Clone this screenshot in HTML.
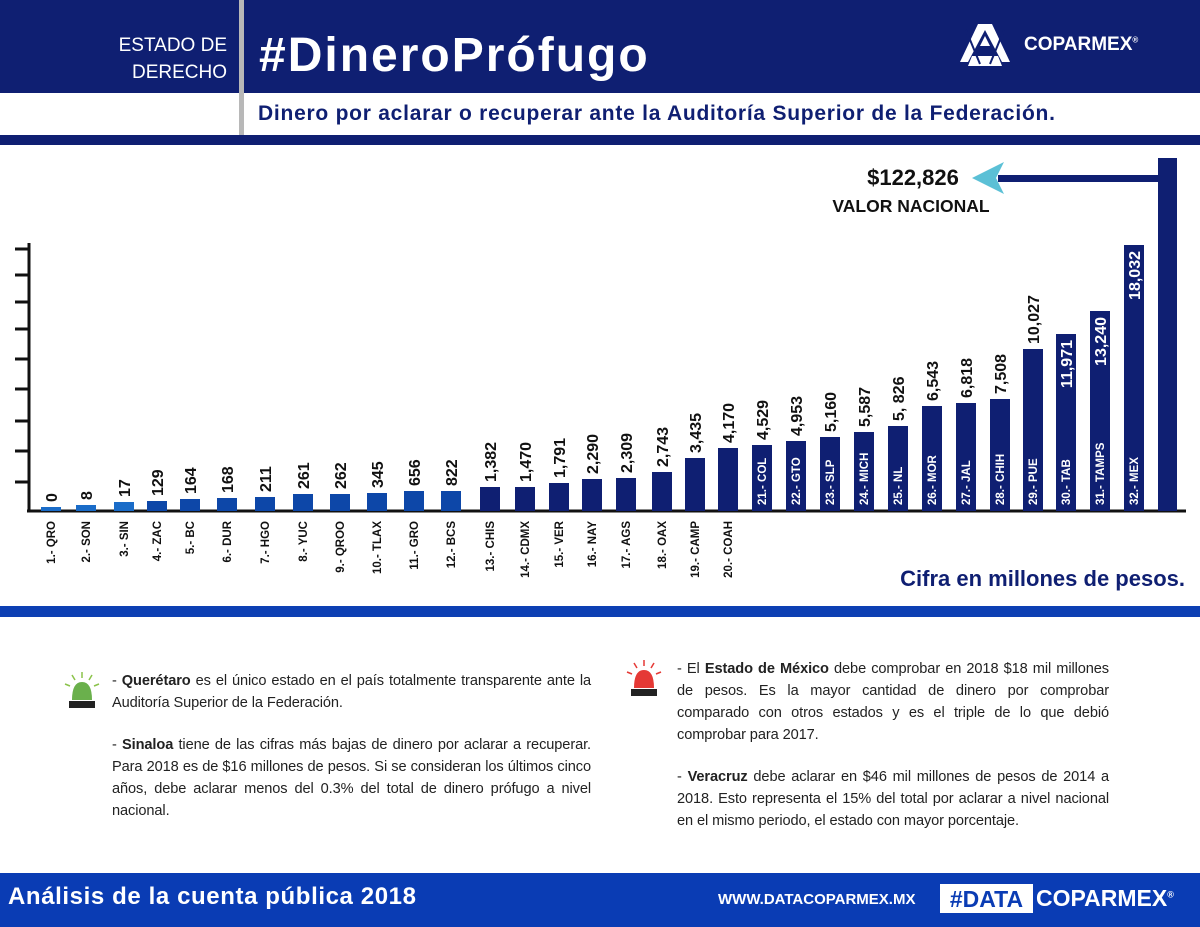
<!DOCTYPE html>
<html><head><meta charset="utf-8"><style>
*{margin:0;padding:0}
body{width:1200px;height:927px;overflow:hidden;background:#fff;font-family:"Liberation Sans",sans-serif;position:relative}
.a{position:absolute}
p.t{font-size:14.6px;line-height:22px;color:#222;text-align:justify;letter-spacing:-0.1px}
</style></head><body>
<div class="a" style="left:0;top:0;width:1200px;height:93px;background:#0f1f72"></div>
<div class="a" style="left:0;top:135px;width:1200px;height:10px;background:#0f1f72"></div>
<div class="a" style="left:239px;top:0;width:5px;height:135px;background:#b8b8b8"></div>
<div class="a" style="left:60px;top:32px;width:167px;text-align:right;color:#fff;font-size:19px;line-height:27px">ESTADO DE<br>DERECHO</div>
<div class="a" style="left:259px;top:28px;color:#fff;font-size:48px;font-weight:bold;letter-spacing:2px">#DineroPrófugo</div>
<svg class="a" style="left:958px;top:22px" width="54" height="46" viewBox="0 0 54 46"><g fill="#fff"><polygon points="20,2 34,2 52,40 44,40 27,8 10,40 2,40"/><polygon points="14,34 40,34 44,44 10,44"/><polygon points="27,14 32,24 22,24" /></g><g stroke="#0f1f72" stroke-width="2"><line x1="8" y1="8" x2="22" y2="42"/><line x1="46" y1="8" x2="32" y2="42"/></g></svg>
<div class="a" style="left:1024px;top:34px;color:#fff;font-size:19px;font-weight:bold">COPARMEX<sup style="font-size:8px">®</sup></div>
<div class="a" style="left:258px;top:102px;color:#0f1f72;font-size:21px;font-weight:bold;letter-spacing:0.75px">Dinero por aclarar o recuperar ante la Auditoría Superior de la Federación.</div>

<svg class="a" style="left:0;top:145px" width="1200" height="460" viewBox="0 145 1200 460" font-family="Liberation Sans, sans-serif" font-weight="bold">
<line x1="29" y1="243" x2="29" y2="512" stroke="#111" stroke-width="3"/>
<line x1="27" y1="511" x2="1186" y2="511" stroke="#111" stroke-width="3"/>
<g stroke="#111" stroke-width="3">
<line x1="15" y1="249" x2="29" y2="249"/><line x1="15" y1="275" x2="29" y2="275"/><line x1="15" y1="302" x2="29" y2="302"/><line x1="15" y1="329" x2="29" y2="329"/><line x1="15" y1="359" x2="29" y2="359"/><line x1="15" y1="389" x2="29" y2="389"/><line x1="15" y1="421" x2="29" y2="421"/><line x1="15" y1="451" x2="29" y2="451"/><line x1="15" y1="482" x2="29" y2="482"/>
</g>
<g id="bars"></g>
<rect x="1158" y="158" width="19" height="353" fill="#0f1f72"/>
<rect x="998" y="175" width="162" height="7" fill="#0f1f72"/>
<polygon points="972,178 1004,162 996,178 1004,194" fill="#5bc0d6"/>
<text x="913" y="185" font-size="22" text-anchor="middle" fill="#111">$122,826</text>
<text x="911" y="212" font-size="17.5" text-anchor="middle" fill="#111">VALOR NACIONAL</text>
<text x="1185" y="586" font-size="22" text-anchor="end" fill="#0f1f72">Cifra en millones de pesos.</text>
</svg>
<div class="a" style="left:0;top:606px;width:1200px;height:11px;background:#0d3fb3"></div>

<svg class="a" style="left:64px;top:672px" width="36" height="38" viewBox="0 0 36 38"><g stroke="#8bc34a" stroke-width="1.5"><line x1="18" y1="0" x2="18" y2="6"/><line x1="8" y1="3" x2="11" y2="8"/><line x1="28" y1="3" x2="25" y2="8"/><line x1="1" y1="12" x2="6" y2="14"/><line x1="35" y1="12" x2="30" y2="14"/></g><path d="M8,28 Q8,10 18,10 Q28,10 28,28Z" fill="#6ab04c"/><rect x="5" y="29" width="26" height="7" fill="#222"/></svg>
<svg class="a" style="left:626px;top:660px" width="36" height="38" viewBox="0 0 36 38"><g stroke="#e53935" stroke-width="1.5"><line x1="18" y1="0" x2="18" y2="6"/><line x1="8" y1="3" x2="11" y2="8"/><line x1="28" y1="3" x2="25" y2="8"/><line x1="1" y1="12" x2="6" y2="14"/><line x1="35" y1="12" x2="30" y2="14"/></g><path d="M8,28 Q8,10 18,10 Q28,10 28,28Z" fill="#e53935"/><rect x="5" y="29" width="26" height="7" fill="#222"/></svg>
<div class="a" style="left:112px;top:670px;width:479px"><p class="t">- <b>Querétaro</b> es el único estado en el país totalmente transparente ante la Auditoría Superior de la Federación.</p><p class="t" style="margin-top:20px">- <b>Sinaloa</b> tiene de las cifras más bajas de dinero por aclarar a recuperar. Para 2018 es de $16 millones de pesos. Si se consideran los últimos cinco años, debe aclarar menos del 0.3% del total de dinero prófugo a nivel nacional.</p></div>
<div class="a" style="left:677px;top:658px;width:432px"><p class="t">- El <b>Estado de México</b> debe comprobar en 2018 $18 mil millones de pesos. Es la mayor cantidad de dinero por comprobar comparado con otros estados y es el triple de lo que debió comprobar para 2017.</p><p class="t" style="margin-top:20px">- <b>Veracruz</b> debe aclarar en $46 mil millones de pesos de 2014 a 2018. Esto representa el 15% del total por aclarar a nivel nacional en el mismo periodo, el estado con mayor porcentaje.</p></div>

<div class="a" style="left:0;top:873px;width:1200px;height:54px;background:#0a3cb4"></div>
<div class="a" style="left:8px;top:883px;color:#fff;font-size:24px;font-weight:bold;letter-spacing:0.6px">Análisis de la cuenta pública 2018</div>
<div class="a" style="left:718px;top:891px;color:#fff;font-size:15px;font-weight:bold">WWW.DATACOPARMEX.MX</div>
<div class="a" style="left:940px;top:884px;width:93px;height:29px;background:#fff;color:#0a3cb4;font-size:23px;font-weight:bold;text-align:center;line-height:30px">#DATA</div>
<div class="a" style="left:1036px;top:885px;color:#fff;font-size:23px;font-weight:bold">COPARMEX<sup style="font-size:9px">®</sup></div>

<script>
var d=[[51,507,"0","1.- QRO"],[86,505,"8","2.- SON"],[124,502,"17","3.- SIN"],[157,501,"129","4.- ZAC"],[190,499,"164","5.- BC"],[227,498,"168","6.- DUR"],[265,497,"211","7.- HGO"],[303,494,"261","8.- YUC"],[340,494,"262","9.- QROO"],[377,493,"345","10.- TLAX"],[414,491,"656","11.- GRO"],[451,491,"822","12.- BCS"],[490,487,"1,382","13.- CHIS"],[525,487,"1,470","14.- CDMX"],[559,483,"1,791","15.- VER"],[592,479,"2,290","16.- NAY"],[626,478,"2,309","17.- AGS"],[662,472,"2,743","18.- OAX"],[695,458,"3,435","19.- CAMP"],[728,448,"4,170","20.- COAH"],[762,445,"4,529","21.- COL"],[796,441,"4,953","22.- GTO"],[830,437,"5,160","23.- SLP"],[864,432,"5,587","24.- MICH"],[898,426,"5, 826","25.- NL"],[932,406,"6,543","26.- MOR"],[966,403,"6,818","27.- JAL"],[1000,399,"7,508","28.- CHIH"],[1033,349,"10,027","29.- PUE"],[1066,334,"11,971","30.- TAB"],[1100,311,"13,240","31.- TAMPS"],[1134,245,"18,032","32.- MEX"]];
var s="";
d.forEach(function(b,i){var c=i<3?"#1a6cc8":(i<12?"#0d47a8":"#0f1f72");
s+='<rect x="'+(b[0]-10)+'" y="'+b[1]+'" width="20" height="'+(511-b[1])+'" fill="'+c+'"/>';
if(i>=29){s+='<text transform="translate('+(b[0]+6)+','+(b[1]+6)+') rotate(-90)" text-anchor="end" font-size="16" fill="#fff">'+b[2]+'</text>';}
else{s+='<text transform="translate('+(b[0]+6)+','+(b[1]-5)+') rotate(-90)" font-size="16" fill="#111">'+b[2]+'</text>';}
if(i>=20){s+='<text transform="translate('+(b[0]+4)+',505) rotate(-90)" font-size="11.5" fill="#fff">'+b[3]+'</text>';}
else{s+='<text transform="translate('+(b[0]+4)+',521) rotate(-90)" text-anchor="end" font-size="11.5" fill="#111">'+b[3]+'</text>';}
});
document.getElementById("bars").innerHTML=s;
</script>
</body></html>
